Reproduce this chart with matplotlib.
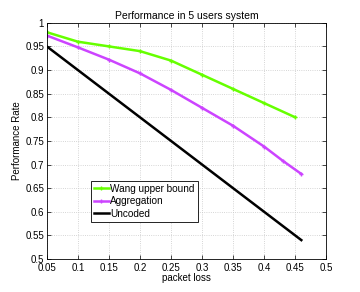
import matplotlib
matplotlib.use("Agg")
from matplotlib import pyplot as plt
import numpy as np

# data
wang_x = [0.05, 0.10, 0.15, 0.20, 0.25, 0.30, 0.35, 0.40, 0.45]
wang_y = [0.980, 0.960, 0.950, 0.940, 0.920, 0.890, 0.860, 0.830, 0.800]

agg_x = [0.05, 0.10, 0.15, 0.20, 0.25, 0.30, 0.35, 0.40, 0.43, 0.46]
agg_y = [0.973, 0.948, 0.922, 0.893, 0.858, 0.820, 0.782, 0.738, 0.708, 0.680]

unc_x = [0.05, 0.46]
unc_y = [0.95, 0.54]

plt.rcParams['font.family'] = ['Liberation Sans', 'DejaVu Sans']
plt.rcParams['font.size'] = 7

fig = plt.figure(figsize=(3.6, 2.92), dpi=100)
ax = fig.add_axes([0.13, 0.113, 0.776, 0.809])

ax.plot(wang_x, wang_y, color='#66ff00', lw=1.8, marker='+', ms=3, label='Wang upper bound')
ax.plot(agg_x, agg_y, color='#cc44ff', lw=1.8, marker='+', ms=3, label='Aggregation')
ax.plot(unc_x, unc_y, color='black', lw=1.8, label='Uncoded')

ax.set_xlim(0.05, 0.5)
ax.set_ylim(0.5, 1.0)
ax.set_xticks(np.arange(0.05, 0.51, 0.05))
ax.set_xticklabels(['0.05', '0.1', '0.15', '0.2', '0.25', '0.3', '0.35', '0.4', '0.45', '0.5'])
ax.set_yticks(np.arange(0.5, 1.01, 0.05))
ax.set_yticklabels(['0.5', '0.55', '0.6', '0.65', '0.7', '0.75', '0.8', '0.85', '0.9', '0.95', '1'])
ax.tick_params(direction='in', top=True, right=True, length=3, width=0.5, pad=2)
ax.tick_params(axis='x', pad=3)
ax.grid(color='#c8c8c8', linestyle=':', linewidth=0.6)
for s in ax.spines.values():
    s.set_linewidth(0.6)

ax.set_title('Performance in 5 users system', fontsize=7.5, pad=3)
ax.set_xlabel('packet loss', labelpad=0)
ax.set_ylabel('Performance Rate', labelpad=2)

leg = ax.legend(loc='lower left', bbox_to_anchor=(0.158, 0.157), fancybox=False,
                edgecolor='black', framealpha=1, handlelength=1.5, handletextpad=0.15,
                borderpad=0.3, labelspacing=0.25, borderaxespad=0, fontsize=7.2)
leg.get_frame().set_linewidth(0.6)

fig.savefig('out.png', dpi=100)
